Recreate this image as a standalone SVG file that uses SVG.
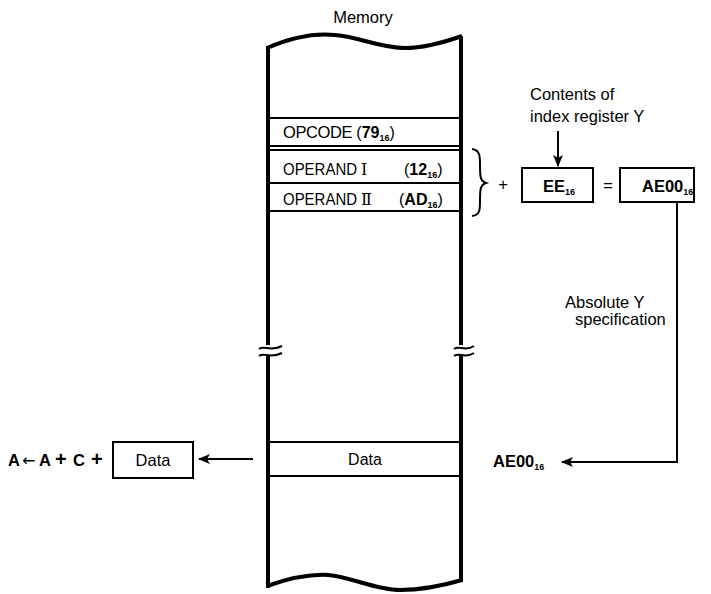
<svg xmlns="http://www.w3.org/2000/svg" width="711" height="594" viewBox="0 0 711 594">
<style>
text{font-family:"Liberation Sans","Arimo",Arial,sans-serif;fill:#000;font-size:16.5px}
.m{font-size:16px}
.b{font-weight:bold}
.sub{font-size:9px;font-weight:bold}
.rn{font-family:"Liberation Serif","DejaVu Serif",serif;font-size:16px}
.thick{stroke:#000;stroke-width:4;fill:none}
.row{stroke:#000;stroke-width:2.2;fill:none}
.box{stroke:#000;stroke-width:2;fill:#fff}
.ln{stroke:#000;stroke-width:2;fill:none}
</style>
<defs>
<marker id="ah" viewBox="0 0 12 10" refX="11" refY="5" markerWidth="12" markerHeight="10" markerUnits="userSpaceOnUse" orient="auto">
<path d="M0,0 L12,5 L0,10 L3,5 z" fill="#000"/>
</marker>
</defs>

<g id="memory">
<text x="363" y="23" text-anchor="middle">Memory</text>
<path class="thick" d="M267,48 C290,38 315,33 335,35 C360,37 380,48 405,48 C425,48 445,42 462,36"/>
<path class="thick" d="M267,586 C290,578 310,574 328,575 C352,577 375,590 400,590 C425,590 445,585 462,580"/>
<path class="thick" d="M268,46 V345 M268,355 V588"/>
<path class="thick" d="M461,36 V345 M461,355 V582"/>
<path class="ln" stroke-width="2.5" d="M259,349 C264,345 270,352 282,346 M259,356 C264,352 270,359 282,353"/>
<path class="ln" stroke-width="2.5" d="M454,349 C459,345 465,352 474,346 M454,356 C459,352 465,359 474,353"/>
<path class="row" d="M268,118 H461 M268,146 H461 M268,150 H461 M268,183 H461 M268,211 H461 M268,442 H461 M268,476 H461"/>
</g>

<g id="opcode">
<text x="283" y="138" font-size="15" letter-spacing="-0.4">OPCODE <tspan font-size="16" letter-spacing="0">(</tspan><tspan class="b" font-size="16" letter-spacing="0">79</tspan><tspan class="sub" dy="3" letter-spacing="0">16</tspan><tspan dy="-3" font-size="16">)</tspan></text>
</g>
<g id="operand1">
<text class="m" x="283" y="175" textLength="74" lengthAdjust="spacingAndGlyphs">OPERAND</text>
<text class="rn" x="361" y="175">Ⅰ</text>
<text class="m" x="404" y="175">(<tspan class="b">12</tspan><tspan class="sub" dy="3">16</tspan><tspan dy="-3">)</tspan></text>
</g>
<g id="operand2">
<text class="m" x="283" y="205" textLength="74" lengthAdjust="spacingAndGlyphs">OPERAND</text>
<text class="rn" x="361" y="205">Ⅱ</text>
<text class="m" x="399" y="205">(<tspan class="b">AD</tspan><tspan class="sub" dy="3">16</tspan><tspan dy="-3">)</tspan></text>
</g>
<g id="data-mem">
<text class="m" x="365" y="465" text-anchor="middle">Data</text>
</g>

<g id="brace">
<path class="ln" stroke-width="1.8" d="M472,149 C480,150 480,156 480,165 C480,176 480,181 486,183 C480,185 480,190 480,201 C480,210 480,215 472,216"/>
<text x="503" y="190" text-anchor="middle" font-size="19">+</text>
</g>

<g id="index-y">
<text x="530" y="100">Contents of</text>
<text x="530" y="122">index register Y</text>
</g>

<g id="ee">
<rect class="box" x="522" y="168" width="71" height="34"/>
<text class="b" x="543" y="192">EE<tspan class="sub" dy="3">16</tspan></text>
</g>
<g id="eq">
<text x="608" y="191" text-anchor="middle" font-size="19">=</text>
</g>
<g id="ae00">
<rect class="box" x="620" y="168" width="74" height="34"/>
<text class="b" x="642" y="192" font-size="16">AE00<tspan class="sub" dy="3">16</tspan></text>
</g>

<g id="abs-y">
<text x="565" y="308">Absolute Y</text>
<text x="575" y="325">specification</text>
</g>

<g id="ae00-addr">
<text class="b" x="493" y="467" font-size="16">AE00<tspan class="sub" dy="3">16</tspan></text>
</g>

<g id="formula">
<text class="b" y="466" font-size="17"><tspan x="8">A</tspan><tspan x="22" font-weight="normal" font-family="DejaVu Sans" font-size="16">←</tspan><tspan x="39">A</tspan><tspan x="55" font-size="20">+</tspan><tspan x="73">C</tspan><tspan x="91" font-size="20">+</tspan></text>
</g>
<g id="data-box">
<rect class="box" x="113" y="442" width="80" height="36"/>
<text x="153" y="466" text-anchor="middle">Data</text>
</g>

<g id="connectors">
<path class="ln" d="M558,131 V166" marker-end="url(#ah)"/>
<path class="ln" d="M677,202 V462 H562" marker-end="url(#ah)"/>
<path class="ln" d="M253,459 H199" marker-end="url(#ah)"/>
</g>
</svg>
